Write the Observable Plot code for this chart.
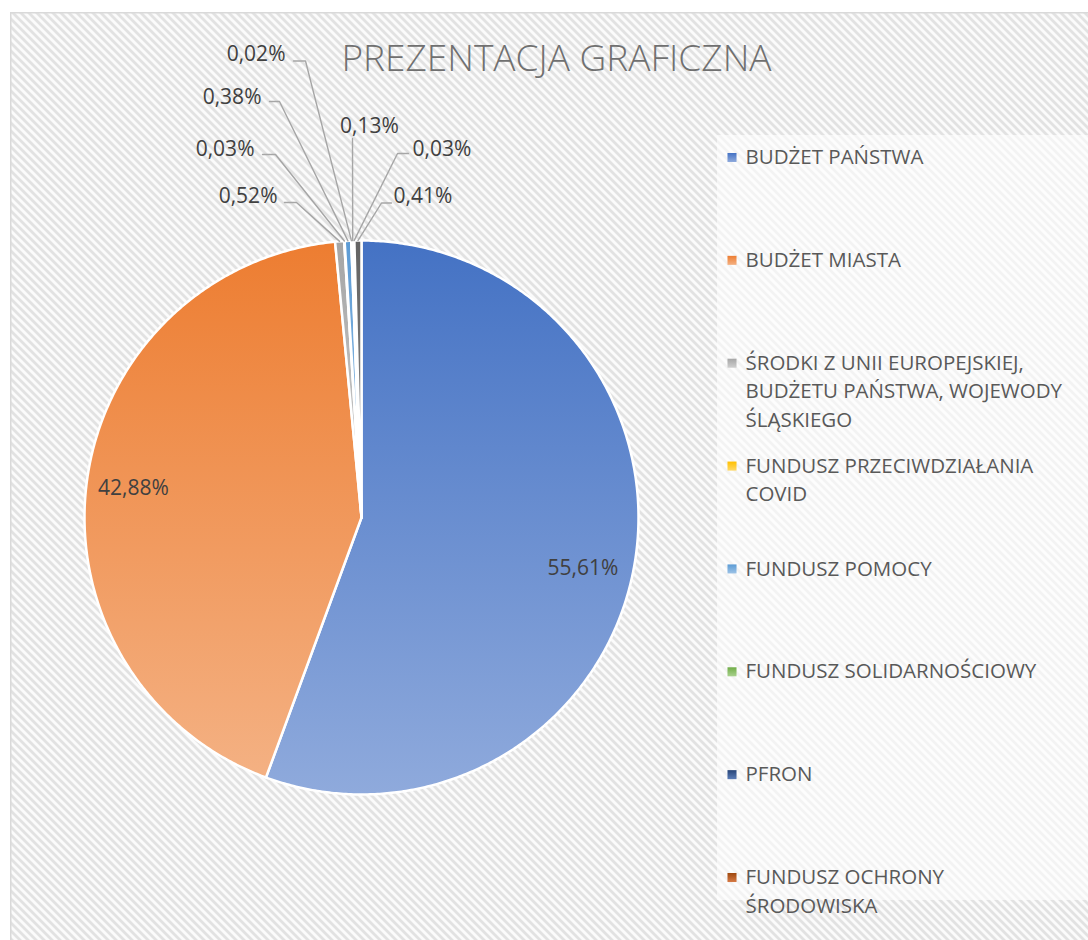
<!DOCTYPE html>
<html><head><meta charset="utf-8">
<script src="https://cdn.jsdelivr.net/npm/d3@7"></script>
<script src="https://cdn.jsdelivr.net/npm/@observablehq/plot@0.6"></script>
<style>body{margin:0;background:#fff}</style>
</head><body><div id="chart"></div>
<script>
// ---- data ----
const title = "PREZENTACJA GRAFICZNA";
const categories = [
  "BUDŻET PAŃSTWA",
  "BUDŻET MIASTA",
  "ŚRODKI Z UNII EUROPEJSKIEJ,\nBUDŻETU PAŃSTWA, WOJEWODY\nŚLĄSKIEGO",
  "FUNDUSZ PRZECIWDZIAŁANIA\nCOVID",
  "FUNDUSZ POMOCY",
  "FUNDUSZ SOLIDARNOŚCIOWY",
  "PFRON",
  "FUNDUSZ OCHRONY\nŚRODOWISKA",
  "POZOSTAŁE"
];
const values = [55.61, 42.88, 0.52, 0.03, 0.38, 0.02, 0.13, 0.03, 0.41];
const colorsTop = ["#4472C4","#ED7D31","#A5A5A5","#FFC000","#5B9BD5","#70AD47","#264478","#9E480E","#636363"];
const colorsBottom = ["#8FAADC","#F4B183","#CFCFCF","#FFD966","#9DC3E6","#A9D18E","#5B7DB8","#D67A45","#8C8C8C"];
const legendShown = 8; // the 9th legend entry is cut off in the original

// ---- layout (pixels) ----
const CX = 361, CY = 517, R = 277;
const ux = px => (px - CX) / R;
const uy = py => (CY - py) / R;
const smallLayout = {
  2: {x: 277, y: 195.5, anchor: "end",    pts: [[284,202],[296,202]]},
  3: {x: 254, y: 148.3, anchor: "end",    pts: [[262,154],[275,154]]},
  4: {x: 261, y: 96.5,  anchor: "end",    pts: [[269,101],[279,101]]},
  5: {x: 285, y: 54,    anchor: "end",    pts: [[293,60.5],[305,60.5]]},
  6: {x: 369, y: 125.5, anchor: "middle", pts: [[352,138]]},
  7: {x: 412, y: 148.3, anchor: "start",  pts: [[408,153],[397,153]]},
  8: {x: 393, y: 195.5, anchor: "start",  pts: [[391,202.5],[381,202.5]]}
};
const bigShift = {0: [-5, 10], 1: [0, 0]};
const FONT = "'Open Sans', sans-serif";

const fmt = v => v.toFixed(2).replace(".", ",") + "%";
const total = d3.sum(values);
let acc = 0;
const slices = values.map((v, i) => {
  const a0 = acc / total * 2 * Math.PI; acc += v;
  const a1 = acc / total * 2 * Math.PI;
  return {i, v, a0, a1, mid: (a0 + a1) / 2, cat: categories[i]};
});
const piePts = slices.flatMap(s => {
  const n = Math.max(2, Math.ceil((s.a1 - s.a0) / (Math.PI / 360)));
  const pts = [{i: s.i, x: 0, y: 0}];
  for (let k = 0; k <= n; k++) {
    const a = s.a0 + (s.a1 - s.a0) * k / n;
    pts.push({i: s.i, x: Math.sin(a), y: Math.cos(a)});
  }
  pts.push({i: s.i, x: 0, y: 0});
  return pts;
});
const bigLabels = slices.filter(s => s.v >= 10).map(s => ({
  x: 0.83 * Math.sin(s.mid) + bigShift[s.i][0] / R,
  y: 0.83 * Math.cos(s.mid) - bigShift[s.i][1] / R,
  t: fmt(s.v)}));
const smallLabels = slices.filter(s => smallLayout[s.i]).map(s => ({x: ux(smallLayout[s.i].x), y: uy(smallLayout[s.i].y), t: fmt(s.v), anchor: smallLayout[s.i].anchor}));
const leaders = slices.filter(s => smallLayout[s.i]).flatMap(s => {
  const L = smallLayout[s.i];
  return [...L.pts.map(p => ({i: s.i, x: ux(p[0]), y: uy(p[1])})), {i: s.i, x: Math.sin(s.mid), y: Math.cos(s.mid)}];
});
const LEG_Y0 = 157, LEG_DY = 102.86, LEG_LH = 28.7, LFS = 20.5;
const legendMarks = categories.slice(0, legendShown).map((c, i) => ({i, x: ux(731.5), y: uy(LEG_Y0 + i * LEG_DY)}));
const legendLines = categories.slice(0, legendShown).flatMap((c, i) =>
  c.split("\n").map((line, k) => ({t: line, x: ux(745), y: uy(LEG_Y0 + i * LEG_DY + k * LEG_LH)})));

const chart = Plot.plot({
  width: 1088, height: 940,
  margin: 0,
  x: {domain: [-1, 1], range: [CX - R, CX + R], axis: null},
  y: {domain: [-1, 1], range: [CY + R, CY - R], axis: null},
  color: {type: "identity"},
  style: {fontFamily: FONT, background: "white"},
  marks: [
    Plot.rect([0], {x1: ux(10.75), x2: ux(1100), y1: uy(12.75), y2: uy(960), fill: "url(#hatch)", stroke: "#d9d9d9", strokeWidth: 1.5}),
    Plot.rect([0], {x1: ux(717), x2: ux(1100), y1: uy(135), y2: uy(900), fill: "white", fillOpacity: 0.6}),
    Plot.line(piePts, {x: "x", y: "y", z: "i", fill: d => `url(#g${d.i})`, stroke: "white", strokeWidth: 2.5, strokeLinejoin: "round", curve: "linear"}),
    Plot.line(leaders, {x: "x", y: "y", z: "i", stroke: "#a6a6a6", strokeWidth: 1.4}),
    Plot.text(bigLabels, {x: "x", y: "y", text: "t", fontSize: 21, fill: "#404040"}),
    Plot.text(smallLabels.filter(d => d.anchor === "end"), {x: "x", y: "y", text: "t", textAnchor: "end", fontSize: 21, fill: "#404040"}),
    Plot.text(smallLabels.filter(d => d.anchor === "start"), {x: "x", y: "y", text: "t", textAnchor: "start", fontSize: 21, fill: "#404040"}),
    Plot.text(smallLabels.filter(d => d.anchor === "middle"), {x: "x", y: "y", text: "t", textAnchor: "middle", fontSize: 21, fill: "#404040"}),
    Plot.text([title], {x: ux(556), y: uy(59), text: d => d, fontSize: 37, fontWeight: 300, fill: "#707070"}),
    Plot.dot(legendMarks, {x: "x", y: "y", symbol: "square", r: 5.1, fill: d => `url(#g${d.i})`, stroke: "none"}),
    Plot.text(legendLines, {x: "x", y: "y", text: "t", textAnchor: "start", fontSize: LFS, fill: "#595959"})
  ]
});

// defs: gradients and background hatch
const defs = d3.select(chart).insert("defs", ":first-child");
colorsTop.forEach((c, i) => {
  const g = defs.append("linearGradient").attr("id", `g${i}`).attr("x1", 0).attr("y1", 0).attr("x2", 0).attr("y2", 1);
  g.append("stop").attr("offset", "0%").attr("stop-color", c);
  g.append("stop").attr("offset", "100%").attr("stop-color", colorsBottom[i]);
});
const pat = defs.append("pattern").attr("id", "hatch").attr("patternUnits", "userSpaceOnUse").attr("width", 8).attr("height", 8);
pat.append("rect").attr("width", 8).attr("height", 8).attr("fill", "#fbfbfb");
pat.append("path").attr("d", "M-2,-2L10,10M-2,6L2,10M6,-2L10,2").attr("stroke", "#e2e2e2").attr("stroke-width", 2.8);
document.getElementById("chart").appendChild(chart);
</script>
</body></html>
